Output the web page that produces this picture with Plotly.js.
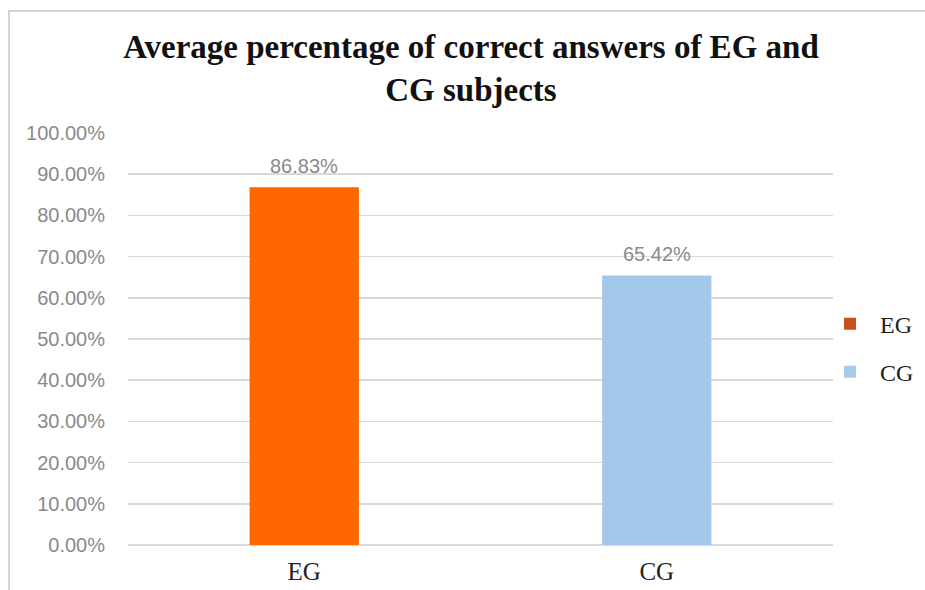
<!DOCTYPE html>
<html>
<head>
<meta charset="utf-8">
<script src="https://cdn.plot.ly/plotly-3.0.1.min.js"></script>
<style>
  html, body { margin: 0; padding: 0; background: #fff; }
  #wrap { position: relative; width: 925px; height: 590px; }
  #chart { width: 925px; height: 590px; }
  #frame {
    position: absolute; left: 8px; top: 10px; right: 0; bottom: 0;
    border-left: 2px solid #d4d4d4; border-top: 2px solid #d4d4d4;
    pointer-events: none;
  }
</style>
</head>
<body>
<div id="wrap">
  <div id="chart"></div>
  <div id="frame"></div>
</div>
<script>
// Average share of correct answers per group
const groups = ["EG", "CG"];
const averages = [0.8683, 0.6542];
const barColors = ["#ff6600", "#a4c8ea"];
const legendColors = ["#c8501a", "#a8cbec"];
const yTicks = [0, 0.1, 0.2, 0.3, 0.4, 0.5, 0.6, 0.7, 0.8, 0.9, 1.0];

const serif = "'Liberation Serif', 'Times New Roman', serif";
const sans = "'Liberation Sans', Arial, sans-serif";

const traces = [];
groups.forEach((g, i) => {
  traces.push({
    type: "bar",
    x: [g],
    y: [averages[i]],
    width: 0.31,
    marker: { color: barColors[i] },
    showlegend: false,
    hoverinfo: "x+y"
  });
});
// legend entries
groups.forEach((g, i) => {
  traces.push({
    type: "bar",
    x: [null],
    y: [null],
    name: g,
    legendgroup: g,
    marker: { color: legendColors[i] },
    showlegend: true
  });
});

const annotations = groups.map((g, i) => ({
  x: g,
  y: averages[i],
  xref: "x",
  yref: "y",
  text: (averages[i] * 100).toFixed(2) + "%",
  showarrow: false,
  yanchor: "bottom",
  yshift: 8,
  font: { family: sans, size: 20, color: "#8a8a8a" }
}));

const layout = {
  width: 925,
  height: 590,
  margin: { l: 128, r: 92, t: 133, b: 45, autoexpand: false },
  paper_bgcolor: "#ffffff",
  plot_bgcolor: "#ffffff",
  title: {
    text: "<b>Average percentage of correct answers of EG and<br>CG subjects</b>",
    font: { family: serif, size: 33, color: "#111111" },
    x: 0.4865,
    xanchor: "center",
    xref: "paper",
    y: 0.902,
    yref: "container",
    yanchor: "middle"
  },
  xaxis: {
    type: "category",
    categoryorder: "array",
    categoryarray: groups,
    showgrid: false,
    showline: false,
    zeroline: false,
    ticks: "outside",
    ticklen: 4,
    tickcolor: "rgba(0,0,0,0)",
    tickfont: { family: serif, size: 25, color: "#222222" }
  },
  yaxis: {
    range: [0, 1.0],
    tickvals: yTicks,
    tickformat: ".2%",
    showgrid: true,
    gridcolor: "#d9d9d9",
    gridwidth: 1.5,
    zeroline: true,
    zerolinecolor: "#d9d9d9",
    zerolinewidth: 1.5,
    showline: false,
    ticks: "outside",
    ticklen: 18,
    tickcolor: "rgba(0,0,0,0)",
    tickfont: { family: sans, size: 20, color: "#8a8a8a" }
  },
  legend: {
    x: 0.9816,
    xanchor: "left",
    y: 0.478,
    yanchor: "middle",
    itemwidth: 50,
    tracegroupgap: 14,
    font: { family: serif, size: 24, color: "#222222" },
    bgcolor: "rgba(0,0,0,0)"
  },
  annotations: annotations,
  bargap: 0.69,
  showlegend: true
};

Plotly.newPlot("chart", traces, layout, { displayModeBar: false, staticPlot: true });
</script>
</body>
</html>
